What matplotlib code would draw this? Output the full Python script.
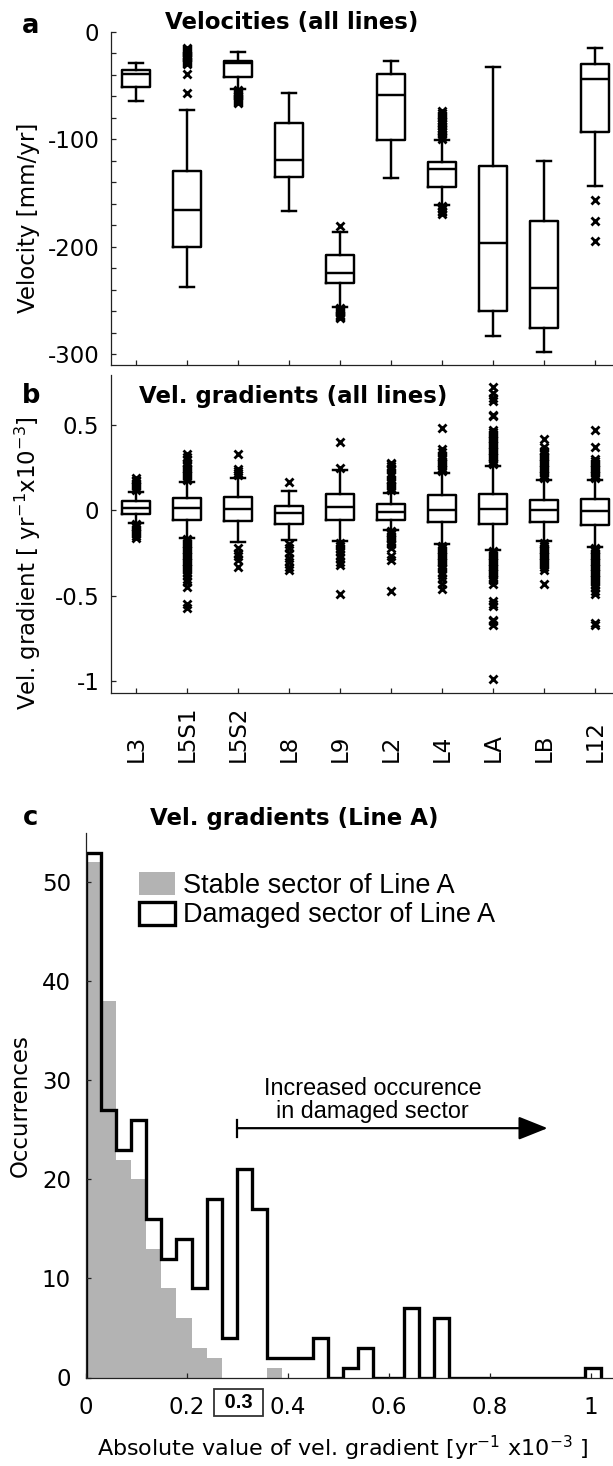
import matplotlib
matplotlib.use('Agg')
import matplotlib.pyplot as plt
from matplotlib.transforms import blended_transform_factory
from matplotlib.patches import Patch

plt.rcParams['font.family'] = ['DejaVu Sans']
plt.rcParams['mathtext.default'] = 'regular'
plt.rcParams['axes.unicode_minus'] = False

# ---------------- data ----------------
lines = ['L3', 'L5S1', 'L5S2', 'L8', 'L9', 'L2', 'L4', 'LA', 'LB', 'L12']

# Panel a: velocities [mm/yr]
vel_whislo = [-64, -237, -53, -167, -256, -136, -161, -283, -298, -143]
vel_q1 = [-51, -200, -42, -135, -234, -101, -144, -260, -276, -93]
vel_med = [-39, -166, -29, -119, -224, -59, -128, -196, -238, -44]
vel_q3 = [-35, -129, -27, -85, -208, -39, -121, -125, -176, -30]
vel_whishi = [-29, -73, -19, -57, -186, -27, -101, -33, -120, -15]
vel_fl_L3 = []
vel_fl_L5S1 = [-15, -16, -17, -18, -19, -20, -21, -22, -23, -24, -25, -26, -27,
               -28, -29, -30, -39.5, -56.5]
vel_fl_L5S2 = [-54, -55, -56, -57, -58, -59, -60, -61, -62, -63, -64, -65, -66]
vel_fl_L8 = []
vel_fl_L9 = [-181, -257, -258, -259, -260, -261, -262, -263, -264, -265, -266]
vel_fl_L2 = []
vel_fl_L4 = [-74, -75.5, -77, -78.5, -80, -81.5, -83, -84.5, -86, -87.5, -89,
             -90.5, -92, -93.5, -95, -96.5, -98, -99.5, -162, -163.5, -165,
             -166.5, -168, -169]
vel_fl_LA = []
vel_fl_LB = []
vel_fl_L12 = [-156, -175.5, -194.6]
vel_fliers = [vel_fl_L3, vel_fl_L5S1, vel_fl_L5S2, vel_fl_L8, vel_fl_L9,
              vel_fl_L2, vel_fl_L4, vel_fl_LA, vel_fl_LB, vel_fl_L12]

# Panel b: velocity gradients [yr^-1 x10^-3]
grd_whislo = [-0.075, -0.164, -0.188, -0.174, -0.18, -0.115, -0.20, -0.232, -0.178, -0.213]
grd_q1 = [-0.021, -0.057, -0.063, -0.080, -0.055, -0.055, -0.068, -0.078, -0.070, -0.086]
grd_med = [0.016, 0.016, 0.008, -0.016, 0.021, -0.010, 0.0, 0.008, 0.004, -0.006]
grd_q3 = [0.057, 0.070, 0.076, 0.027, 0.098, 0.035, 0.092, 0.098, 0.060, 0.064]
grd_whishi = [0.11, 0.168, 0.19, 0.115, 0.236, 0.10, 0.217, 0.26, 0.178, 0.178]
grd_fl_L3 = [0.12, 0.13, 0.14, 0.15, 0.16, 0.17, 0.18, 0.19,
             -0.08, -0.09, -0.10, -0.11, -0.12, -0.13, -0.14, -0.15, -0.16]
grd_fl_L5S1 = [0.18, 0.19, 0.20, 0.21, 0.22, 0.23, 0.24, 0.25, 0.26, 0.27, 0.28,
               0.30, 0.31, 0.33,
               -0.17, -0.18, -0.19, -0.20, -0.21, -0.22, -0.23, -0.24, -0.25,
               -0.26, -0.27, -0.28, -0.29, -0.30, -0.31, -0.32, -0.33, -0.34,
               -0.35, -0.36, -0.38, -0.40, -0.42, -0.45, -0.55, -0.57]
grd_fl_L5S2 = [0.21, 0.22, 0.23, 0.24, 0.33, -0.22, -0.25, -0.27, -0.29, -0.33]
grd_fl_L8 = [0.165, -0.20, -0.22, -0.25, -0.28, -0.30, -0.33, -0.35]
grd_fl_L9 = [0.25, 0.40, -0.19, -0.20, -0.21, -0.22, -0.24, -0.26, -0.28, -0.30,
             -0.32, -0.49]
grd_fl_L2 = [0.12, 0.13, 0.14, 0.15, 0.16, 0.17, 0.18, 0.20, 0.22, 0.24, 0.25,
             0.26, 0.27, 0.28,
             -0.12, -0.13, -0.14, -0.15, -0.16, -0.17, -0.18, -0.19, -0.20,
             -0.22, -0.27, -0.29, -0.47]
grd_fl_L4 = [0.23, 0.24, 0.25, 0.26, 0.27, 0.28, 0.29, 0.30, 0.31, 0.32, 0.34,
             0.36, 0.48,
             -0.21, -0.22, -0.23, -0.24, -0.25, -0.26, -0.27, -0.28, -0.29,
             -0.30, -0.31, -0.32, -0.33, -0.34, -0.36, -0.38, -0.40, -0.43, -0.46]
grd_fl_LA = [0.27, 0.28, 0.29, 0.30, 0.31, 0.32, 0.33, 0.34, 0.35, 0.36, 0.37,
             0.38, 0.39, 0.40, 0.41, 0.42, 0.43, 0.44, 0.45, 0.46, 0.47, 0.55,
             0.56, 0.64, 0.66, 0.69, 0.72,
             -0.24, -0.25, -0.26, -0.27, -0.28, -0.29, -0.30, -0.31, -0.32,
             -0.33, -0.34, -0.35, -0.36, -0.37, -0.38, -0.39, -0.40, -0.41,
             -0.43, -0.53, -0.55, -0.56, -0.64, -0.65, -0.67, -0.99]
grd_fl_LB = [0.19, 0.20, 0.21, 0.22, 0.23, 0.24, 0.25, 0.26, 0.27, 0.28, 0.29,
             0.30, 0.31, 0.32, 0.33, 0.34, 0.35, 0.37, 0.42,
             -0.19, -0.20, -0.21, -0.22, -0.23, -0.24, -0.25, -0.26, -0.27,
             -0.28, -0.29, -0.30, -0.31, -0.32, -0.33, -0.35, -0.43]
grd_fl_L12 = [0.19, 0.20, 0.21, 0.22, 0.23, 0.24, 0.25, 0.26, 0.27, 0.28, 0.29,
              0.30, 0.37, 0.47,
              -0.22, -0.23, -0.24, -0.25, -0.26, -0.27, -0.28, -0.29, -0.30,
              -0.31, -0.32, -0.33, -0.34, -0.35, -0.36, -0.37, -0.38, -0.39,
              -0.40, -0.41, -0.42, -0.43, -0.45, -0.47, -0.49, -0.66, -0.67]
grd_fliers = [grd_fl_L3, grd_fl_L5S1, grd_fl_L5S2, grd_fl_L8, grd_fl_L9,
              grd_fl_L2, grd_fl_L4, grd_fl_LA, grd_fl_LB, grd_fl_L12]

# Panel c: histogram of |gradient| in Line A, bins of 0.03
bin_edges = [0.00, 0.03, 0.06, 0.09, 0.12, 0.15, 0.18, 0.21, 0.24, 0.27, 0.30,
             0.33, 0.36, 0.39, 0.42, 0.45, 0.48, 0.51, 0.54, 0.57, 0.60, 0.63,
             0.66, 0.69, 0.72, 0.75, 0.78, 0.81, 0.84, 0.87, 0.90, 0.93, 0.96,
             0.99, 1.02]
stable_counts = [52, 38, 22, 20, 13, 9, 6, 3, 2, 0, 0, 0, 1, 0, 0, 0, 0, 0, 0,
                 0, 0, 0, 0, 0, 0, 0, 0, 0, 0, 0, 0, 0, 0, 0]
damaged_counts = [53, 27, 23, 26, 16, 12, 14, 9, 18, 4, 21, 17, 2, 2, 2, 4, 0,
                  1, 3, 0, 0, 7, 0, 6, 0, 0, 0, 0, 0, 0, 0, 0, 0, 1]

# ---------------- figure ----------------
W, H = 613, 1466
fig = plt.figure(figsize=(W / 100, H / 100), dpi=100, facecolor='white')

TICK_FS = 16.5
LINE_C = '#222222'
GRAY = '#b3b3b3'
HELV = ['Liberation Sans', 'DejaVu Sans']


def style_axes(ax, pad):
    for s in ['top', 'right']:
        ax.spines[s].set_visible(False)
    for s in ['left', 'bottom']:
        ax.spines[s].set_color(LINE_C)
        ax.spines[s].set_linewidth(0.9)
    ax.tick_params(which='both', direction='in', length=3.5, width=0.9,
                   color=LINE_C, labelsize=TICK_FS, pad=pad)


def box_stats(whislo, q1, med, q3, whishi, fliers):
    return [dict(whislo=a, q1=b, med=c, q3=d, whishi=e, fliers=f)
            for a, b, c, d, e, f in zip(whislo, q1, med, q3, whishi, fliers)]


LW_BOX = 1.75
bx_kw = dict(widths=0.53, capwidths=0.26, patch_artist=False,
             boxprops=dict(color='k', lw=LW_BOX),
             whiskerprops=dict(color='k', lw=LW_BOX, linestyle='-'),
             capprops=dict(color='k', lw=LW_BOX),
             medianprops=dict(color='k', lw=LW_BOX),
             flierprops=dict(marker='x', markeredgecolor='k', markersize=5.5,
                             markeredgewidth=2.0, linestyle='none'))
positions = list(range(1, len(lines) + 1))

# ---- panel a ----
ax_a = fig.add_axes([110.5 / W, 1 - 365 / H, 510 / W, 333 / H])
ax_a.bxp(box_stats(vel_whislo, vel_q1, vel_med, vel_q3, vel_whishi, vel_fliers),
         positions=positions, **bx_kw)
ax_a.set_xlim(0.5, 10.5)
ax_a.set_ylim(-310, 0)
ax_a.set_yticks([0, -100, -200, -300])
ax_a.set_yticklabels(['0', '-100', '-200', '-300'])
ax_a.set_yticks([-20, -40, -60, -80, -120, -140, -160, -180, -220, -240, -260,
                 -280], minor=True)
ax_a.set_xticks(positions)
ax_a.set_xticklabels([])
style_axes(ax_a, 8.0)

# ---- panel b ----
ax_b = fig.add_axes([110.5 / W, 1 - 693.3 / H, 510 / W, 318.3 / H])
ax_b.bxp(box_stats(grd_whislo, grd_q1, grd_med, grd_q3, grd_whishi, grd_fliers),
         positions=positions, **bx_kw)
ax_b.set_xlim(0.5, 10.5)
ax_b.set_ylim(-1.072, 0.793)
ax_b.set_yticks([-1, -0.5, 0, 0.5])
ax_b.set_yticklabels(['-1', '-0.5', '0', '0.5'])
ax_b.set_xticks(positions)
ax_b.set_xticklabels([])
style_axes(ax_b, 8.0)
trans_lbl = blended_transform_factory(ax_b.transData, fig.transFigure)
for p, name in zip(positions, lines):
    ax_b.text(p, 1 - 762 / H, name, rotation=90, ha='center', va='bottom',
              fontsize=16.5, transform=trans_lbl, clip_on=False)

# ---- panel c ----
ax_c = fig.add_axes([85.5 / W, 1 - 1377.5 / H, 1.06 * 505 / W, 544.8 / H])
ax_c.stairs(stable_counts, bin_edges, fill=True, color=GRAY, lw=0)
ax_c.stairs(damaged_counts, bin_edges, baseline=0, fill=False, color='k', lw=2.4)
ax_c.set_xlim(0, 1.06)
ax_c.set_ylim(0, 55)
ax_c.set_xticks([0, 0.2, 0.4, 0.6, 0.8, 1.0])
ax_c.set_xticklabels(['0', '0.2', '0.4', '0.6', '0.8', '1'])
ax_c.set_yticks([0, 10, 20, 30, 40, 50])
style_axes(ax_c, 10.5)
ax_c.tick_params(axis='x', pad=13.0)

# boxed threshold label
ax_c.text(0.303, -0.046, ' 0.3 ',
          transform=blended_transform_factory(ax_c.transData, ax_c.transAxes),
          ha='center', va='center', fontsize=14.5, fontweight='bold', family=HELV,
          bbox=dict(boxstyle='square,pad=0.22', facecolor='white',
                    edgecolor='#333333', lw=1.3),
          clip_on=False)

# arrow annotation
ax_c.annotate('', xy=(0.915, 25.17), xytext=(0.3, 25.17),
              arrowprops=dict(arrowstyle='-|>,head_length=0.9,head_width=0.36',
                              color='k', lw=1.6, shrinkA=0, shrinkB=0,
                              mutation_scale=20))
ax_c.plot([0.3, 0.3], [24.3, 26.0], color='k', lw=1.6)
ax_c.text(0.569, 29.2, 'Increased occurence', ha='center', va='center',
          fontsize=16.8, family=HELV)
ax_c.text(0.569, 26.85, 'in damaged sector', ha='center', va='center',
          fontsize=16.8, family=HELV)

leg = ax_c.legend(handles=[Patch(facecolor=GRAY, edgecolor='none'),
                           Patch(facecolor='white', edgecolor='k', lw=2.4)],
                  labels=['Stable sector of Line A', 'Damaged sector of Line A'],
                  loc='upper left', bbox_to_anchor=(139 / W, 1 - 872 / H),
                  bbox_transform=fig.transFigure, frameon=False, borderpad=0,
                  borderaxespad=0, handlelength=1.33, handleheight=0.93,
                  handletextpad=0.3, labelspacing=0.1,
                  prop=dict(family=HELV, size=19.5))

# ---- titles, labels, panel letters ----
TITLE_FS = 16.5
fig.text(292 / W, 1 - 22 / H, 'Velocities (all lines)', ha='center', va='center',
         fontsize=TITLE_FS, fontweight='bold')
fig.text(293 / W, 1 - 397 / H, 'Vel. gradients (all lines)', ha='center', va='center',
         fontsize=TITLE_FS, fontweight='bold')
fig.text(294 / W, 1 - 819 / H, 'Vel. gradients (Line A)', ha='center', va='center',
         fontsize=TITLE_FS, fontweight='bold')
for letter, yy in [('a', 26), ('b', 396), ('c', 818)]:
    fig.text(31 / W, 1 - yy / H, letter, ha='center', va='center', fontsize=18.5,
             fontweight='bold')

fig.text(29 / W, 1 - 217.5 / H, 'Velocity [mm/yr]', rotation=90, ha='center',
         va='center', fontsize=16.5)
fig.text(28 / W, 1 - 563.5 / H, 'Vel. gradient [ yr$^{-1}$x10$^{-3}$]', rotation=90,
         ha='center', va='center', fontsize=16.5)
fig.text(20 / W, 1 - 1106 / H, 'Occurrences', rotation=90, ha='center',
         va='center', fontsize=16.5)
fig.text(343 / W, 1 - 1448 / H, 'Absolute value of vel. gradient [yr$^{-1}$ x10$^{-3}$ ]',
         ha='center', va='center', fontsize=16)

fig.savefig('out.png', dpi=100, facecolor='white')
